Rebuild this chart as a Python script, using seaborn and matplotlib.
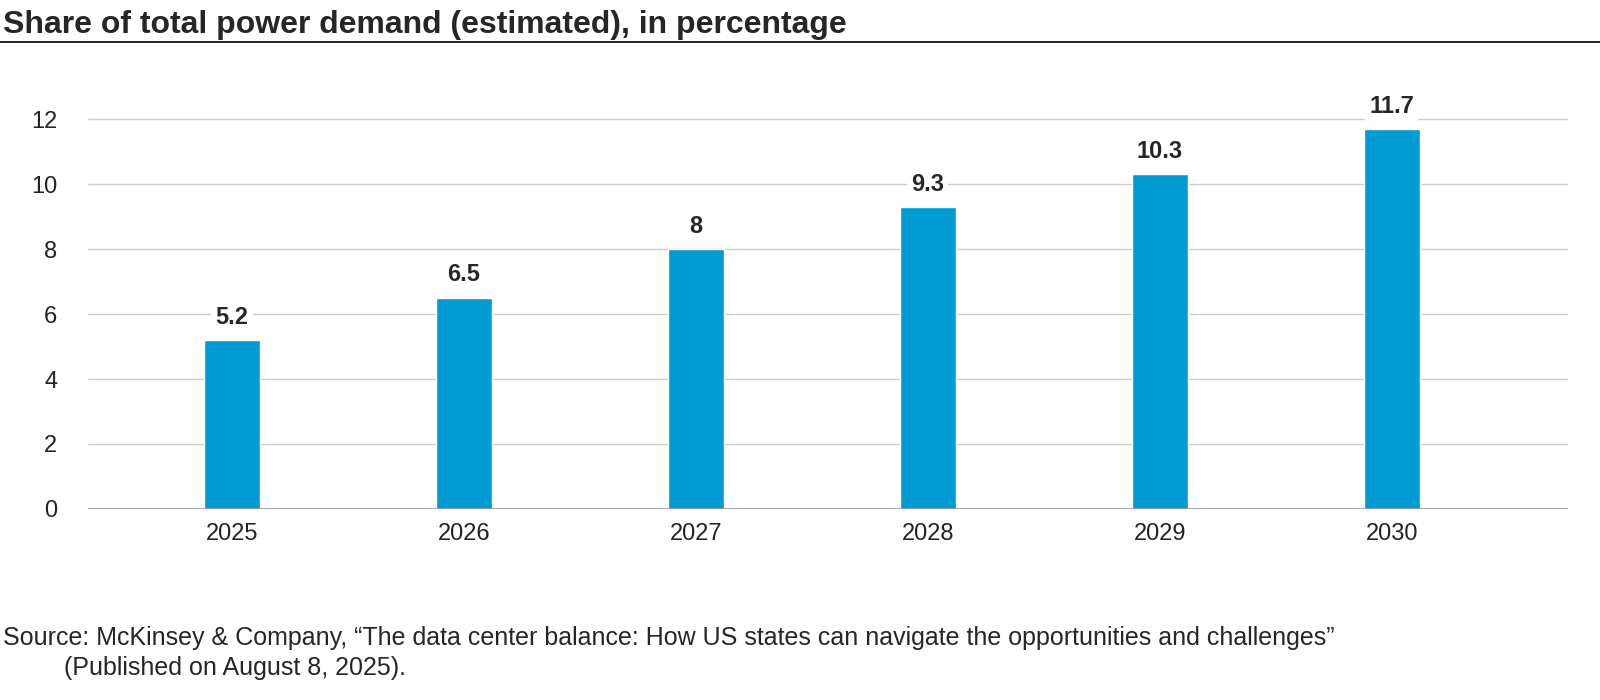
import pandas as pd
import seaborn as sns
import matplotlib.pyplot as plt

years = ['2025', '2026', '2027', '2028', '2029', '2030']
share = [5.2, 6.5, 8, 9.3, 10.3, 11.7]
value_labels = ['5.2', '6.5', '8', '9.3', '10.3', '11.7']
yticks = [0, 2, 4, 6, 8, 10, 12]

df = pd.DataFrame({'year': years, 'share': share})

sns.set_style('white')
plt.rcParams['font.family'] = ['Liberation Sans', 'DejaVu Sans']

fig = plt.figure(figsize=(16, 7), dpi=100)
ax = fig.add_axes([0.055, 0.273, 0.925, 0.603])

sns.barplot(data=df, x='year', y='share', color='#009BD2', width=0.24,
            saturation=1, ax=ax, zorder=3)

for i, (v, lab) in enumerate(zip(share, value_labels)):
    ax.text(i, v + 0.35, lab, ha='center', va='bottom', fontsize=17,
            fontweight='bold', zorder=4,
            bbox=dict(facecolor='white', edgecolor='none', pad=3))

ax.set_ylim(0, 13)
ax.set_xlim(-0.62, 5.76)
ax.set_yticks(yticks)
ax.yaxis.grid(True, color='#cccccc', linewidth=1, zorder=0)
ax.axhline(0, color='#999999', linewidth=1.2, zorder=4)
ax.tick_params(axis='both', length=0, labelsize=17, colors='#222222')
ax.tick_params(axis='y', pad=22)
ax.tick_params(axis='x', pad=10)
ax.set_xlabel('')
ax.set_ylabel('')
for s in ax.spines.values():
    s.set_visible(False)

fig.text(0.002, 0.985, 'Share of total power demand (estimated), in percentage',
         fontsize=23, fontweight='bold', va='top', ha='left')
fig.add_artist(plt.Line2D([0, 1], [0.94, 0.94], color='black', linewidth=1.2,
                          transform=fig.transFigure))
fig.text(0.002, 0.088, 'Source: McKinsey & Company, \u201cThe data center balance: How US states '
         'can navigate the opportunities and challenges\u201d',
         fontsize=18, va='center', ha='left')
fig.text(0.04, 0.045, '(Published on August 8, 2025).', fontsize=18, va='center', ha='left')

fig.savefig('out.png', dpi=100)
